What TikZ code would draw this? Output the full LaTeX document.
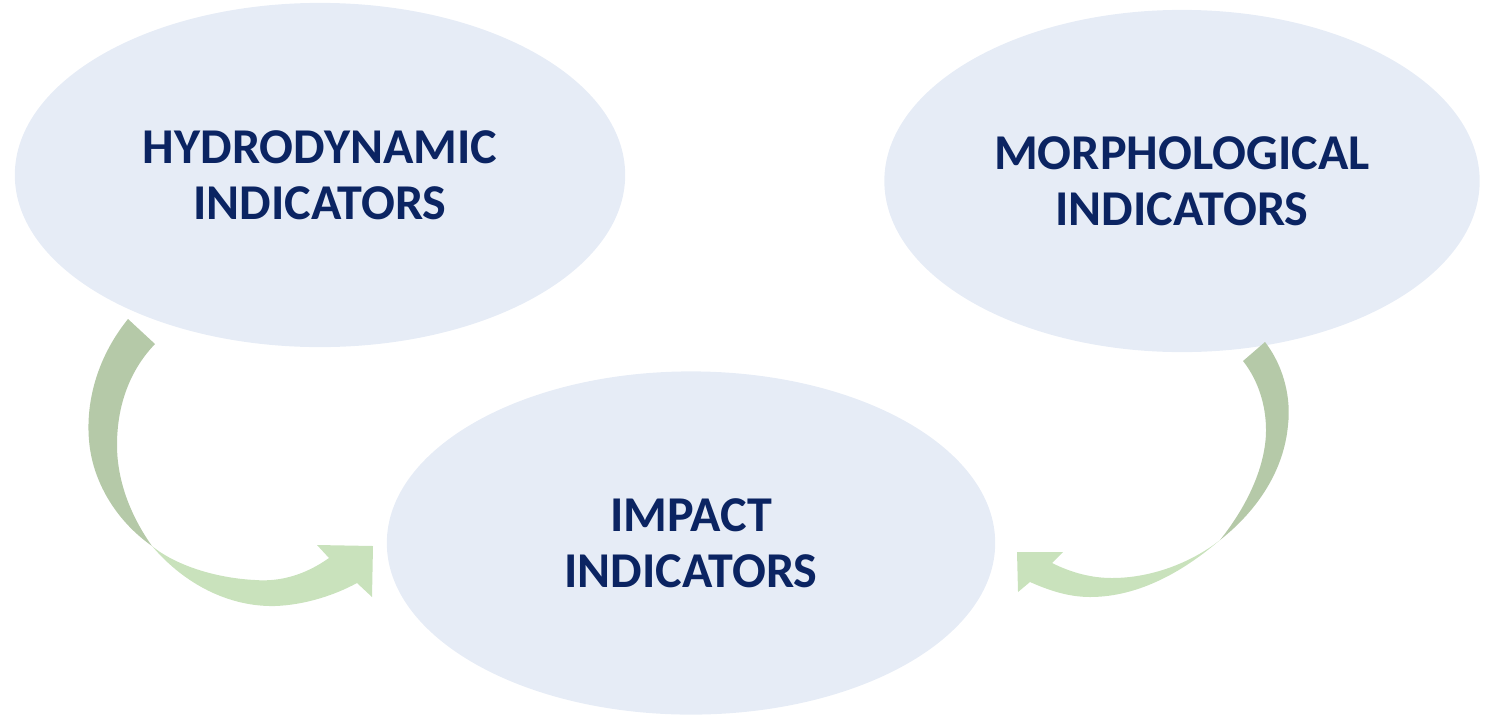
\documentclass[tikz,border=0pt]{standalone}
\usepackage{fontspec}
\setmainfont{Carlito}
\usetikzlibrary{shapes.geometric}
\definecolor{ovalfill}{HTML}{E6ECF6}
\definecolor{navy}{HTML}{0B2462}
\definecolor{greendark}{HTML}{B5C9A8}
\definecolor{greenlight}{HTML}{C9E2BC}
\tikzset{
  indicator/.style={ellipse, fill=ovalfill, inner sep=0pt, align=center,
    text=navy, font=\bfseries\fontsize{14.25}{15.9}\selectfont},
}
\begin{document}
\begin{tikzpicture}[x=0.01cm, y=-0.01cm]
			\useasboundingbox (0,0) rectangle (1504,715);
			\node[indicator, minimum width=6.1cm, minimum height=3.44cm] (hydro) at (320,175) {HYDRODYNAMIC\\INDICATORS};
			\node[indicator, minimum width=5.95cm, minimum height=3.42cm] (morpho) at (1182,181) {MORPHOLOGICAL\\INDICATORS};
			\node[indicator, minimum width=6.08cm, minimum height=3.43cm] (impact) at (691,543) {IMPACT\\INDICATORS};
			% left curved arrow
			\fill[greendark] (128,319) .. controls (95,360) and (86,405) .. (89,440) .. controls (92,480) and (115,520) .. (152,546)
				.. controls (130,515) and (117,480) .. (117,445) .. controls (117,405) and (130,370) .. (155,344) -- cycle;
			\fill[greenlight] (152,546) .. controls (185,585) and (230,607) .. (275,606) .. controls (305,605) and (335,595) .. (357,583)
				-- (372,597) -- (373,546) -- (317,545) -- (329,558)
				.. controls (305,575) and (280,582) .. (255,580) .. controls (215,578) and (175,565) .. (152,546) -- cycle;
			% right curved arrow
			\fill[greendark] (1265,342) .. controls (1285,368) and (1291,400) .. (1288,425) .. controls (1284,470) and (1258,510) .. (1220,540)
				.. controls (1248,505) and (1266,465) .. (1266,430) .. controls (1266,405) and (1258,380) .. (1243,361) -- cycle;
			\fill[greenlight] (1220,540) .. controls (1185,570) and (1140,597) .. (1090,597) .. controls (1068,597) and (1048,590) .. (1030,582)
				-- (1018,592) -- (1017,552) -- (1063,552) -- (1052,563)
				.. controls (1072,573) and (1092,578) .. (1112,578) .. controls (1155,578) and (1195,560) .. (1220,540) -- cycle;
		\end{tikzpicture}
\end{document}
